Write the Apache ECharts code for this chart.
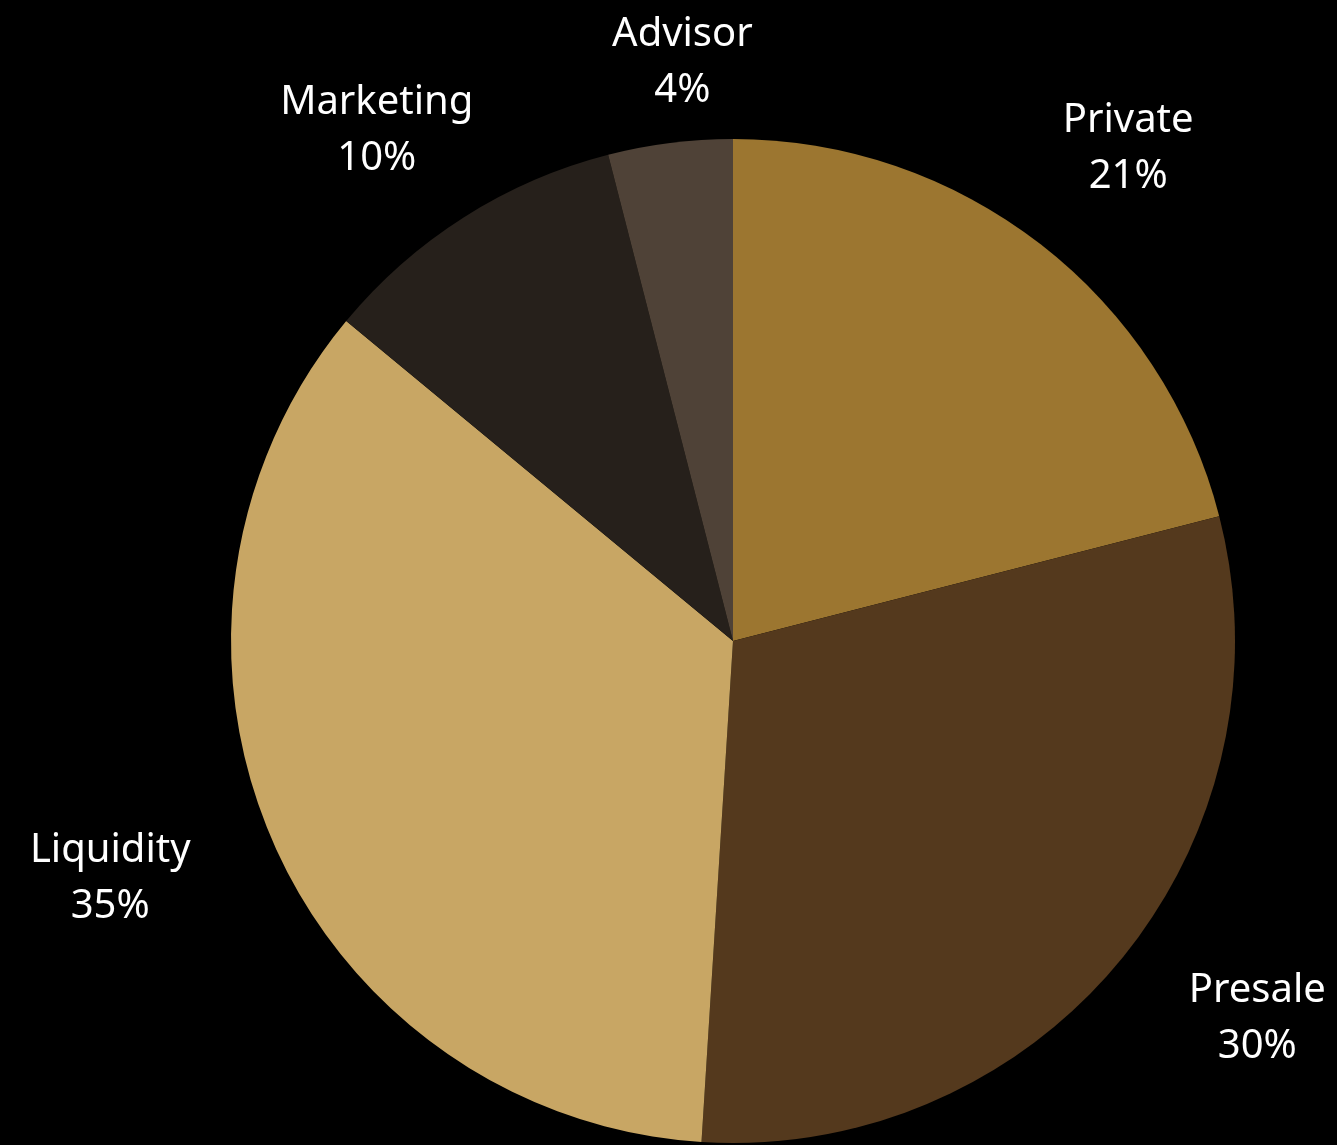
<!DOCTYPE html>
<html>
<head>
<meta charset="utf-8">
<script src="https://cdn.jsdelivr.net/npm/echarts@6/dist/echarts.min.js"></script>
<style>
html,body{margin:0;padding:0;background:#000;}
#c{width:1337px;height:1145px;}
</style>
</head>
<body>
<div id="c"></div>
<script>
const categories = ['Private', 'Presale', 'Liquidity', 'Marketing', 'Advisor'];
const shares = [21, 30, 35, 10, 4];
const colors = ['#9C7630', '#54391D', '#C8A664', '#26201B', '#4F4237'];
const labelOffsets = [[6, 9], [35, -27], [-40, -15], [-16, 26], [29, 52]];

const chart = echarts.init(document.getElementById('c'));
const center = [733, 641];

chart.setOption({
  backgroundColor: '#000',
  animation: false,
  series: [
    {
      type: 'pie',
      center: center,
      radius: [0, 502],
      startAngle: 90,
      clockwise: true,
      silent: true,
      label: { show: false },
      labelLine: { show: false },
      itemStyle: { borderWidth: 0 },
      data: categories.map((n, i) => ({ name: n, value: shares[i], itemStyle: { color: colors[i] } }))
    },
    {
      type: 'pie',
      center: center,
      radius: [622, 642],
      startAngle: 90,
      clockwise: true,
      silent: true,
      itemStyle: { color: 'rgba(0,0,0,0)' },
      labelLine: { show: false },
      label: {
        show: true,
        position: 'inside',
        color: '#ffffff',
        fontFamily: 'Noto Sans',
        fontSize: 40,
        lineHeight: 56,
        align: 'center',
        formatter: p => p.name + '\n' + p.value + '%'
      },
      data: categories.map((n, i) => ({ name: n, value: shares[i], label: { offset: labelOffsets[i] } }))
    }
  ]
});
</script>
</body>
</html>
